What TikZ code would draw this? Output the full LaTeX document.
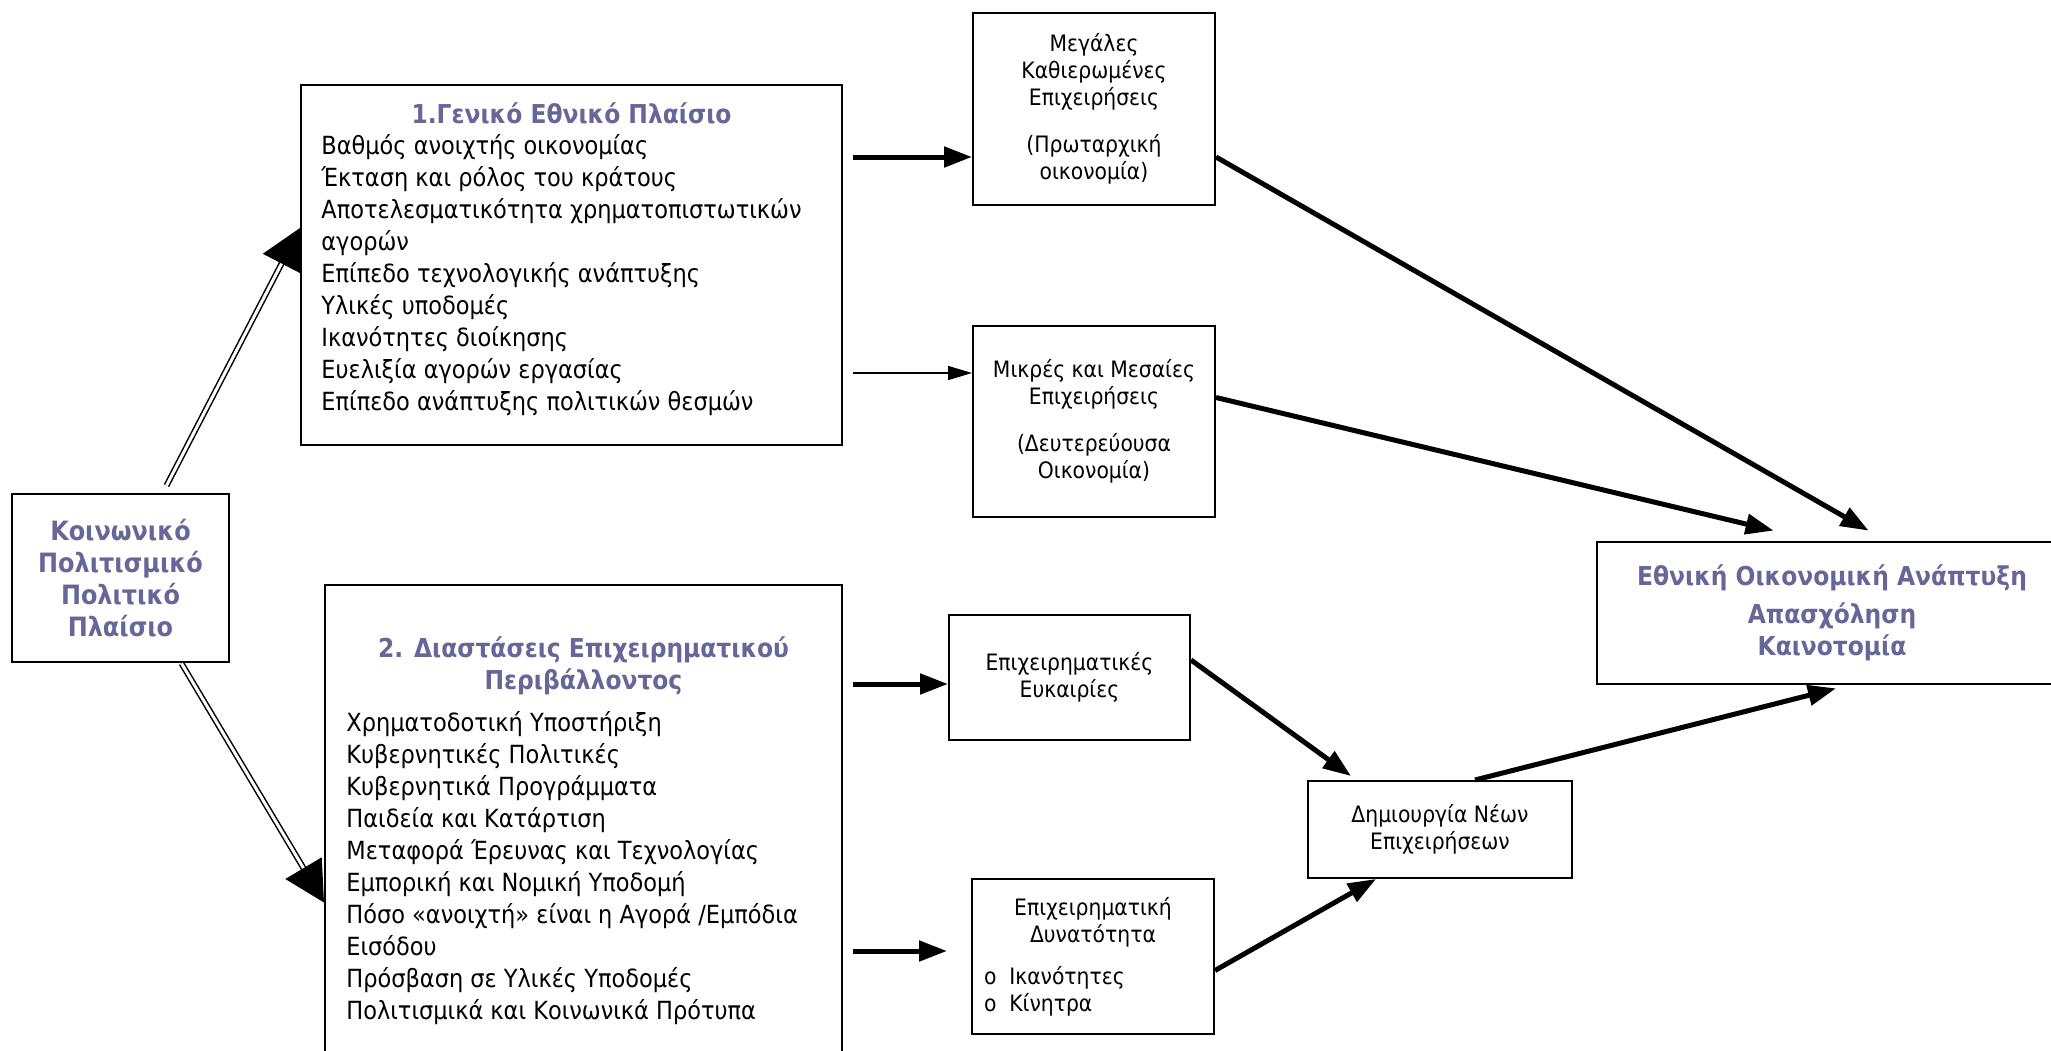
\documentclass[tikz,border=0pt]{standalone}
\usepackage{fontspec}
\setmainfont{DejaVu Sans Condensed}[BoldFont={DejaVu Sans Condensed Bold}]
\usetikzlibrary{arrows.meta}
\definecolor{titleblue}{RGB}{102,102,153}

\begin{document}
\begin{tikzpicture}[x=0.5pt,y=-0.5pt]
  \tikzstyle{box}=[draw, line width=1pt, fill=white, inner sep=0pt, align=center,
    font=\fontsize{11.3}{13.5}\selectfont]
  \tikzstyle{big}=[inner sep=0pt, align=left, font=\fontsize{12.5}{16}\selectfont]
  \tikzstyle{title}=[inner sep=0pt, align=center, text=titleblue,
    font=\fontsize{13}{16}\selectfont\bfseries]
  \tikzstyle{fat}=[line width=2.5pt, -{Triangle[length=14pt,width=10pt]}]
  \tikzstyle{slim}=[line width=0.75pt, -{Triangle[length=12pt,width=7pt]}]
  \tikzstyle{dbl}=[double, line width=0.75pt, double distance=1.5pt,
    -{Triangle[length=20pt,width=21pt]}]
  \useasboundingbox (0,0) rectangle (2051,1050);

  % left column
  \node[box, title, font=\fontsize{13.3}{16}\selectfont\bfseries, line width=1.4pt,
    minimum width=108.5pt, minimum height=84pt] (Soc)
    at (120.5,578) {Κοινωνικό\\Πολιτισμικό\\Πολιτικό\\Πλαίσιο};

  % the two big frames
  \node[box, minimum width=270.5pt, minimum height=180pt] (Gen) at (571.5,265) {};
  \node[title] (Gen_t) at (571.5,113) {1.Γενικό Εθνικό Πλαίσιο};
  \node[big, anchor=base west] (Gen_l) at (321,410) {Βαθμός ανοιχτής οικονομίας\\
    Έκταση και ρόλος του κράτους\\Αποτελεσματικότητα χρηματοπιστωτικών\\αγορών\\
    Επίπεδο τεχνολογικής ανάπτυξης\\Υλικές υποδομές\\Ικανότητες διοίκησης\\
    Ευελιξία αγορών εργασίας\\Επίπεδο ανάπτυξης πολιτικών θεσμών};

  \node[box, minimum width=258.5pt, minimum height=237.5pt] (Bus) at (583.5,822.5) {};
  \node[title] (Bus_t) at (583.5,666) {2. Διαστάσεις Επιχειρηματικού\\Περιβάλλοντος};
  \node[big, anchor=base west] (Bus_l) at (346,1019) {Χρηματοδοτική Υποστήριξη\\
    Κυβερνητικές Πολιτικές\\Κυβερνητικά Προγράμματα\\Παιδεία και Κατάρτιση\\
    Μεταφορά Έρευνας και Τεχνολογίας\\Εμπορική και Νομική Υποδομή\\
    Πόσο «ανοιχτή» είναι η Αγορά /Εμπόδια\\Εισόδου\\
    Πρόσβαση σε Υλικές Υποδομές\\Πολιτισμικά και Κοινωνικά Πρότυπα};

  % firms
  \node[box, minimum width=121pt, minimum height=96pt] (Large) at (1094,109)
    {Μεγάλες\\Καθιερωμένες\\Επιχειρήσεις\\[10pt](Πρωταρχική\\οικονομία)};
  \node[box, minimum width=121pt, minimum height=95.5pt] (Small) at (1094,421.5)
    {Μικρές και Μεσαίες\\Επιχειρήσεις\\[10pt](Δευτερεύουσα\\Οικονομία)};
  \node[box, minimum width=120.5pt, minimum height=62.5pt] (Opp) at (1069.5,677.5)
    {Επιχειρηματικές\\Ευκαιρίες};
  \node[box, minimum width=121pt, minimum height=77.5pt] (Cap) at (1093,956.5)
    {Επιχειρηματική\\Δυνατότητα\\[7.5pt]\makebox[109pt][l]{o\ \ Ικανότητες}\\
    \makebox[109pt][l]{o\ \ Κίνητρα}};
  \node[box, minimum width=132pt, minimum height=48.5pt] (New) at (1440,829.5)
    {Δημιουργία Νέων\\Επιχειρήσεων};
  \node[box, title, line width=1.4pt, minimum width=235pt, minimum height=71pt] (Dev)
    at (1832,613) {Εθνική Οικονομική Ανάπτυξη\\[3pt]Απασχόληση\\Καινοτομία};

  \coordinate (s1) at (853,157);
  \coordinate (s2) at (853,373);
  \coordinate (s3) at (853,684);
  \coordinate (s4) at (853,951);
  \coordinate (t4) at (947,951);

  \draw[dbl] ([xshift=23pt,yshift=3.5pt]Soc.north) -- ([yshift=18.5pt]Gen.west);
  \draw[dbl] ([xshift=30.5pt]Soc.south) -- ([yshift=-40pt]Bus.west);

  \draw[fat] (s1) -- (s1 -| Large.west);
  \draw[slim] (s2) -- (s2 -| Small.west);
  \draw[fat] (s3) -- (s3 -| Opp.west);
  \draw[fat] (s4) -- (t4);

  \draw[fat] ([yshift=-24pt]Large.east) -- ([xshift=136.5pt,yshift=5pt]Dev.north west);
  \draw[fat] ([yshift=12pt]Small.east) -- ([xshift=89pt,yshift=5pt]Dev.north west);
  \draw[fat] ([yshift=8.75pt]Opp.east) -- ([xshift=22pt,yshift=2pt]New.north west);
  \draw[fat] ([yshift=-7pt]Cap.east) -- ([xshift=34.5pt]New.south west);
  \draw[fat] ([xshift=17.5pt]New.north) -- ([xshift=2pt,yshift=-1.5pt]Dev.south);
\end{tikzpicture}
\end{document}
